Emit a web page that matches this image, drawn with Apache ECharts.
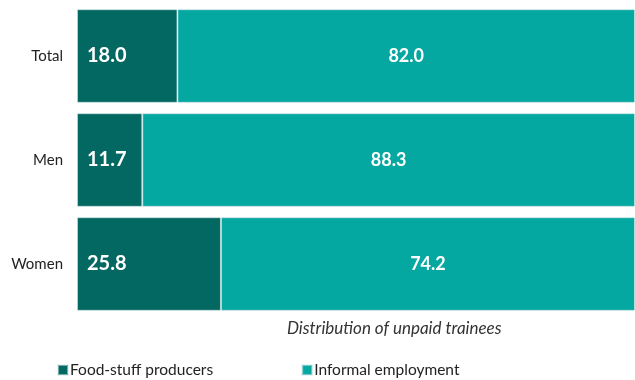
<!DOCTYPE html>
<html><head><meta charset="utf-8">
<script src="https://cdn.jsdelivr.net/npm/echarts@6/dist/echarts.min.js"></script>
<style>html,body{margin:0;padding:0;background:#fff}#c{width:635px;height:380px}</style>
</head><body><div id="c"></div>
<script>
const categories = ['Total', 'Men', 'Women'];
const foodStuff = [18.0, 11.7, 25.8];
const informal = [82.0, 88.3, 74.2];
const seriesNames = ['Food-stuff producers', 'Informal employment'];
const axisTitle = 'Distribution of unpaid trainees';

const FONT = 'Lato, "Liberation Sans", sans-serif';
const chart = echarts.init(document.getElementById('c'), null, {renderer: 'canvas'});
chart.setOption({
  animation: false,
  textStyle: {fontFamily: FONT},
  grid: {left: 77, top: 4, width: 567, height: 312, containLabel: false},
  xAxis: {type: 'value', min: 0, max: 100, show: false},
  yAxis: {
    type: 'category', data: categories, inverse: true,
    axisLine: {show: false}, axisTick: {show: false},
    axisLabel: {color: '#222', fontSize: 15, margin: 14, fontFamily: FONT}
  },
  title: {text: axisTitle, left: 282, top: 315,
    textStyle: {fontSize: 17, fontStyle: 'italic', fontWeight: 'normal', color: '#333', fontFamily: FONT}},
  legend: {
    top: 357, left: 52, itemWidth: 10, itemHeight: 10, itemGap: 88, icon: 'rect',
    textStyle: {fontSize: 15.5, color: '#222', fontFamily: FONT, padding: [0,0,0,-3]},
    data: seriesNames
  },
  series: [
    {name: seriesNames[0], type: 'bar', stack: 's', data: foodStuff, barCategoryGap: '10%',
      itemStyle: {color: '#036861', borderColor: 'rgba(215,232,232,0.55)', borderWidth: 1},
      label: {show: true, position: 'insideLeft', distance: 10, color: '#fff', fontSize: 20, fontWeight: 'bold',
        formatter: p => p.value.toFixed(1)}},
    {name: seriesNames[1], type: 'bar', stack: 's', data: informal,
      itemStyle: {color: '#05A8A0', borderColor: 'rgba(215,232,232,0.55)', borderWidth: 1},
      label: {show: true, position: 'inside', color: '#fff', fontSize: 18, fontWeight: 'bold',
        formatter: p => p.value.toFixed(1)}}
  ]
});
</script></body></html>
